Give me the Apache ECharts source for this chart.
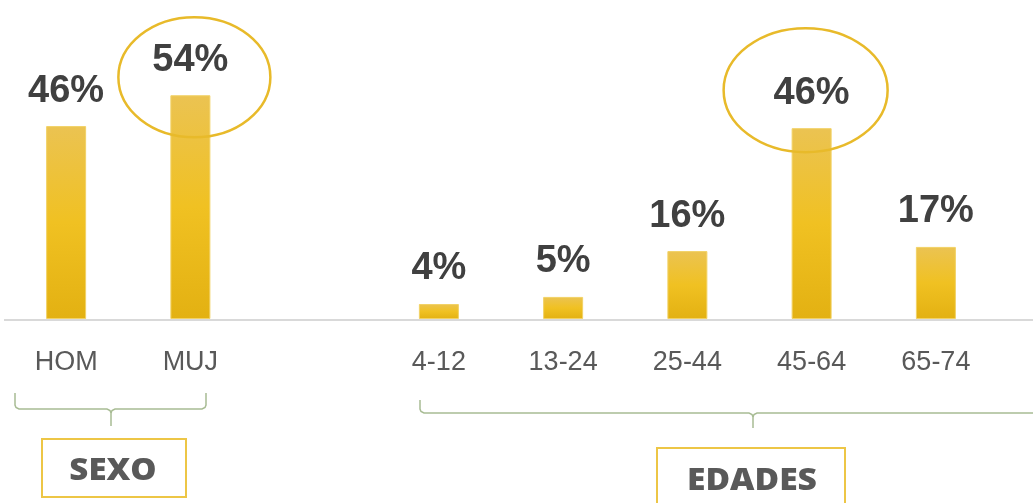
<!DOCTYPE html>
<html><head><meta charset="utf-8">
<script src="https://cdn.jsdelivr.net/npm/echarts@6/dist/echarts.min.js"></script>
<style>html,body{margin:0;padding:0;background:#fff}#c{width:1033px;height:503px}</style>
</head><body><div id="c"></div>
<script>
const categories = ['HOM', 'MUJ', '', '4-12', '13-24', '25-44', '45-64', '65-74'];
const values = [46.3, 53.7, '-', 3.6, 5.3, 16.3, 45.8, 17.3];
const groupLabels = ['SEXO', 'EDADES'];
const highlighted = ['MUJ', '45-64'];
const yMax = 60;

const chart = echarts.init(document.getElementById('c'), null, {renderer: 'canvas'});
const barColor = new echarts.graphic.LinearGradient(0, 0, 0, 1, [
  {offset: 0, color: '#EBC352'}, {offset: 0.5, color: '#F0C122'}, {offset: 1, color: '#E3B112'}
]);
chart.setOption({
  animation: false,
  grid: {left: 4, right: 35, top: 69, bottom: 184},
  xAxis: {
    type: 'category', data: categories,
    axisLine: {show: false}, axisTick: {show: false},
    axisLabel: {color: '#595959', fontFamily: 'Liberation Sans', fontSize: 27, margin: 30, interval: 0}
  },
  yAxis: {type: 'value', min: 0, max: yMax, show: false, splitLine: {show: false}},
  series: [{
    type: 'bar', data: values, barWidth: 40,
    itemStyle: {color: barColor, borderColor: '#F2D266', borderWidth: 1},
    label: {
      show: true, position: 'top', distance: 16,
      formatter: p => Math.round(p.value) + '%',
      fontFamily: 'Liberation Sans', fontWeight: 'bold', fontSize: 38, color: '#404040'
    }
  }]
});

const y0 = chart.convertToPixel({yAxisIndex: 0}, 0);
const px = c => chart.convertToPixel({xAxisIndex: 0}, c);
const py = v => chart.convertToPixel({yAxisIndex: 0}, v);
const ringStyle = {fill: 'none', stroke: '#E8BA2A', lineWidth: 2.5};
const ellOff = [{dx: 4, dy: -18, rx: 76, ry: 60}, {dx: -6, dy: -38, rx: 82, ry: 62}];
const rings = highlighted.map((c, i) => {
  const x = px(c), y = py(values[categories.indexOf(c)]);
  return {type: 'ellipse', shape: {cx: x + ellOff[i].dx, cy: y + ellOff[i].dy, rx: ellOff[i].rx, ry: ellOff[i].ry}, style: ringStyle, z: 10};
});
const braceStyle = {fill: 'none', stroke: '#A8BC94', lineWidth: 1.5};
function brace(x1, x2, xm, yTop, yH, yTip) {
  return [
    {type: 'polyline', shape: {points: [[x1, yTop], [x1, yH - 4], [x1 + 1, yH - 1.5], [x1 + 4, yH], [xm - 4, yH], [xm - 1, yH + 1.5], [xm, yH + 4], [xm, yTip]]}, style: braceStyle},
    {type: 'polyline', shape: {points: [[xm, yH + 4], [xm + 1, yH + 1.5], [xm + 4, yH], [x2 - 4, yH], [x2 - 1, yH - 1.5], [x2, yH - 4], [x2, yTop]]}, style: braceStyle}
  ];
}
const boxStyle = {fill: '#fff', stroke: '#EDC646', lineWidth: 2};
const boxText = {fontFamily: 'Open Sans', fontWeight: 800, fontSize: 30, fill: '#595959', align: 'center', verticalAlign: 'middle'};
chart.setOption({
  graphic: [
    {type: 'line', shape: {x1: 4, y1: y0 + 1, x2: 1033, y2: y0 + 1}, style: {stroke: '#D9D9D9', lineWidth: 2}, z: 5},
    ...rings,
    ...brace(15, 206, 111, 393, 409, 426),
    ...brace(420, 1090, 753, 400, 413, 428),
    {type: 'rect', shape: {x: 42, y: 439, width: 144, height: 58}, style: boxStyle},
    {type: 'text', x: 113, y: 471, scaleX: 1.1, style: Object.assign({text: groupLabels[0]}, boxText)},
    {type: 'rect', shape: {x: 657, y: 448, width: 188, height: 80}, style: boxStyle},
    {type: 'text', x: 752, y: 481, scaleX: 1.12, style: Object.assign({text: groupLabels[1]}, boxText)}
  ]
});
</script>
</body></html>
